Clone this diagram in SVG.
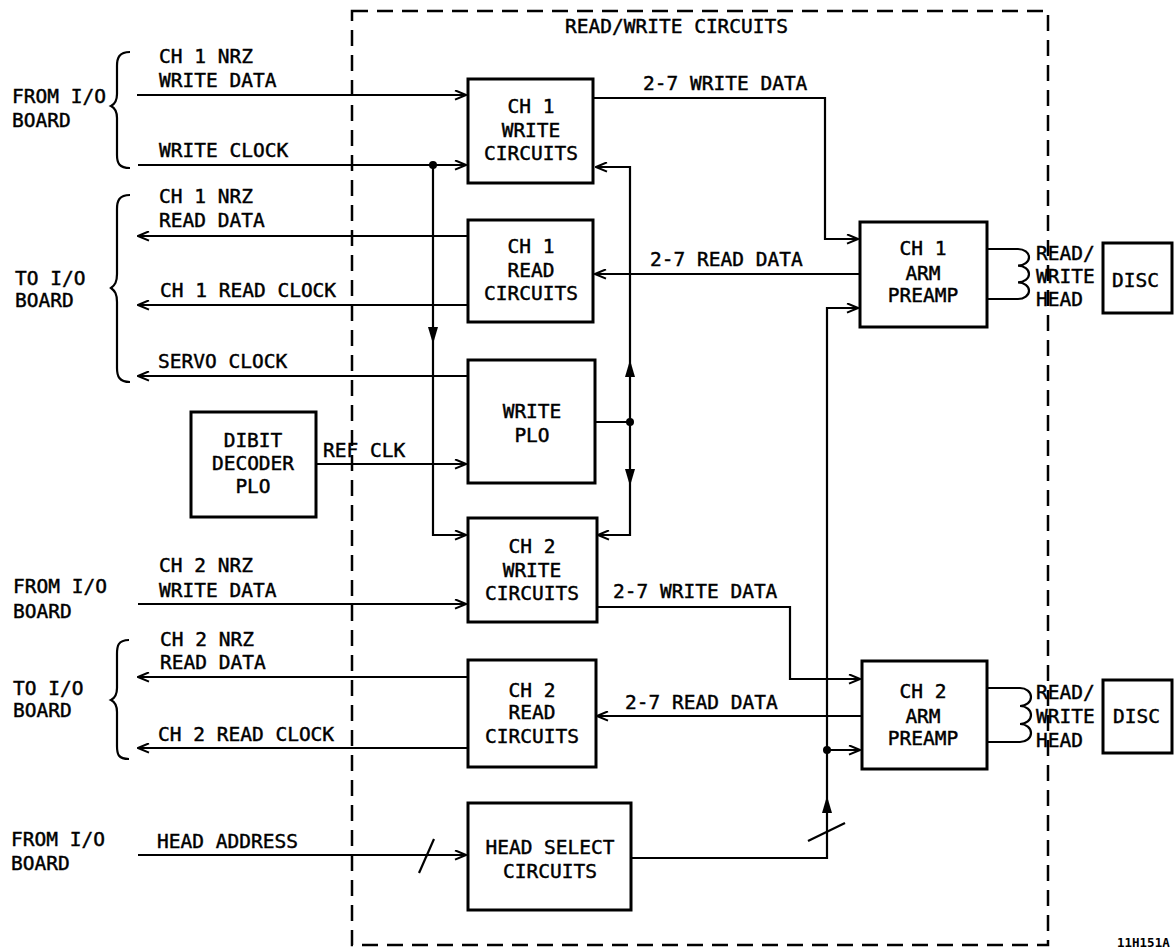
<svg xmlns="http://www.w3.org/2000/svg" width="1175" height="949" viewBox="0 0 1175 949">
<style>
text{font-family:"DejaVu Sans Mono","Liberation Mono",monospace;font-size:19.5px;fill:#000;stroke:#000;stroke-width:0.45}
.c{text-anchor:middle}
.box{fill:none;stroke:#000;stroke-width:3}
.ln{fill:none;stroke:#000;stroke-width:2.2}
.ar{fill:none;stroke:#000;stroke-width:2.2;marker-end:url(#oa)}
.fa{fill:#000;stroke:none}
.dot{fill:#000}
.dash{fill:none;stroke:#000;stroke-width:2.5;stroke-dasharray:16 9}
.id{font-size:12.5px;font-weight:bold;stroke-width:0}
</style>
<defs>
<marker id="oa" viewBox="0 0 13 11" refX="12" refY="5.5" markerWidth="13" markerHeight="11" markerUnits="userSpaceOnUse" orient="auto">
<path d="M1,0.8 L12,5.5 L1,10.2" fill="none" stroke="#000" stroke-width="2"/>
</marker>
</defs>
<rect width="1175" height="949" fill="#fff"/>

<g id="rw-boundary">
<rect class="dash" x="352" y="11" width="696" height="934"/>
<text x="565" y="33">READ/WRITE CIRCUITS</text>
</g>

<g id="connectors">
<path class="ar" d="M137,95 H466"/>
<path class="ar" d="M138,165 H466"/>
<path class="ar" d="M433,165 V535 H466"/>
<polygon class="fa" points="428,327 438,327 433,344"/>
<circle class="dot" cx="433" cy="165" r="4"/>
<path class="ar" d="M468,236 H138"/>
<path class="ar" d="M468,305 H138"/>
<path class="ar" d="M468,376 H138"/>
<path class="ar" d="M316,464 H466"/>
<path class="ln" d="M595,422 H630"/>
<path class="ar" d="M630,422 V167 H596"/>
<path class="ar" d="M630,422 V535 H598"/>
<polygon class="fa" points="625,377 635,377 630,360"/>
<polygon class="fa" points="625,469 635,469 630,486"/>
<circle class="dot" cx="630" cy="422" r="4"/>
<path class="ar" d="M593,98 H825 V239 H858"/>
<path class="ar" d="M860,274 H595"/>
<path class="ar" d="M631,858 H827 V308 H858"/>
<path class="ar" d="M827,750 H860"/>
<circle class="dot" cx="827" cy="750" r="4"/>
<polygon class="fa" points="822,813 832,813 827,796"/>
<path class="ln" d="M808,841 L845,823"/>
<path class="ar" d="M138,604 H466"/>
<path class="ar" d="M597,607 H790 V679 H860"/>
<path class="ar" d="M862,716 H597"/>
<path class="ar" d="M468,677 H138"/>
<path class="ar" d="M468,748 H138"/>
<path class="ar" d="M138,855 H466"/>
<path class="ln" d="M419,873 L434,839"/>
<path class="ln" d="M987,249 H1018 a11,8.33 0 0 1 0,16.67 a11,8.33 0 0 1 0,16.67 a11,8.33 0 0 1 0,16.67 H987"/>
<path class="ln" d="M987,688 H1020 a11,9 0 0 1 0,18 a11,9 0 0 1 0,18 a11,9 0 0 1 0,18 H987"/>
<path class="ln" d="M130,52 C119,52 117,58 117,66 L117,94 C117,101 115,104 111,106 C115,108 117,111 117,118 L117,155 C117,163 119,168 130,168"/>
<path class="ln" d="M130,195 C119,195 117,201 117,209 L117,274 C117,282 115,285 111,288 C115,291 117,294 117,302 L117,368 C117,376 119,382 130,382"/>
<path class="ln" d="M129,640 C118,640 117,646 117,654 L117,688 C117,695 115,698 111,700 C115,702 117,705 117,712 L117,746 C117,754 118,759 129,759"/>
</g>

<g id="labels">
<text x="12" y="103">FROM I/O</text>
<text x="12" y="127">BOARD</text>
<text x="159" y="63">CH 1 NRZ</text>
<text x="159" y="87">WRITE DATA</text>
<text x="159" y="157">WRITE CLOCK</text>
<text x="159" y="203">CH 1 NRZ</text>
<text x="159" y="227">READ DATA</text>
<text x="15" y="285">TO I/O</text>
<text x="15" y="307">BOARD</text>
<text x="160" y="297">CH 1 READ CLOCK</text>
<text x="158" y="368">SERVO CLOCK</text>
<text x="323" y="457">REF CLK</text>
<text x="13" y="593">FROM I/O</text>
<text x="13" y="618">BOARD</text>
<text x="159" y="572">CH 2 NRZ</text>
<text x="159" y="597">WRITE DATA</text>
<text x="160" y="646">CH 2 NRZ</text>
<text x="160" y="669">READ DATA</text>
<text x="13" y="695">TO I/O</text>
<text x="13" y="717">BOARD</text>
<text x="158" y="741">CH 2 READ CLOCK</text>
<text x="11" y="846">FROM I/O</text>
<text x="11" y="870">BOARD</text>
<text x="157" y="848">HEAD ADDRESS</text>
<text x="643" y="90">2-7 WRITE DATA</text>
<text x="650" y="266">2-7 READ DATA</text>
<text x="613" y="598">2-7 WRITE DATA</text>
<text x="625" y="709">2-7 READ DATA</text>
<text x="1036" y="260">READ/</text>
<text x="1036" y="283">WRITE</text>
<text x="1036" y="306">HEAD</text>
<text x="1036" y="699">READ/</text>
<text x="1036" y="723">WRITE</text>
<text x="1036" y="747">HEAD</text>
<text class="id" x="1117" y="947">11H151A</text>
</g>

<g id="ch1-write">
<rect class="box" x="468" y="79" width="125" height="104"/>
<text class="c" x="531" y="113">CH 1</text>
<text class="c" x="531" y="137">WRITE</text>
<text class="c" x="531" y="160">CIRCUITS</text>
</g>
<g id="ch1-read">
<rect class="box" x="468" y="220" width="125" height="102"/>
<text class="c" x="531" y="253">CH 1</text>
<text class="c" x="531" y="277">READ</text>
<text class="c" x="531" y="300">CIRCUITS</text>
</g>
<g id="write-plo">
<rect class="box" x="468" y="360" width="127" height="123"/>
<text class="c" x="532" y="418">WRITE</text>
<text class="c" x="532" y="442">PLO</text>
</g>
<g id="dibit">
<rect class="box" x="191" y="412" width="125" height="105"/>
<text class="c" x="253" y="447">DIBIT</text>
<text class="c" x="253" y="470">DECODER</text>
<text class="c" x="253" y="493">PLO</text>
</g>
<g id="ch2-write">
<rect class="box" x="468" y="518" width="129" height="104"/>
<text class="c" x="532" y="553">CH 2</text>
<text class="c" x="532" y="577">WRITE</text>
<text class="c" x="532" y="600">CIRCUITS</text>
</g>
<g id="ch2-read">
<rect class="box" x="468" y="660" width="128" height="107"/>
<text class="c" x="532" y="697">CH 2</text>
<text class="c" x="532" y="719">READ</text>
<text class="c" x="532" y="743">CIRCUITS</text>
</g>
<g id="head-select">
<rect class="box" x="468" y="803" width="163" height="107"/>
<text class="c" x="550" y="854">HEAD SELECT</text>
<text class="c" x="550" y="878">CIRCUITS</text>
</g>
<g id="ch1-arm">
<rect class="box" x="860" y="222" width="127" height="105"/>
<text class="c" x="923" y="255">CH 1</text>
<text class="c" x="923" y="280">ARM</text>
<text class="c" x="923" y="302">PREAMP</text>
</g>
<g id="ch2-arm">
<rect class="box" x="862" y="661" width="125" height="108"/>
<text class="c" x="923" y="698">CH 2</text>
<text class="c" x="923" y="723">ARM</text>
<text class="c" x="923" y="745">PREAMP</text>
</g>
<g id="disc1">
<rect class="box" x="1103" y="243" width="69" height="70"/>
<text x="1112" y="287">DISC</text>
</g>
<g id="disc2">
<rect class="box" x="1103" y="680" width="69" height="73"/>
<text x="1113" y="723">DISC</text>
</g>
</svg>
